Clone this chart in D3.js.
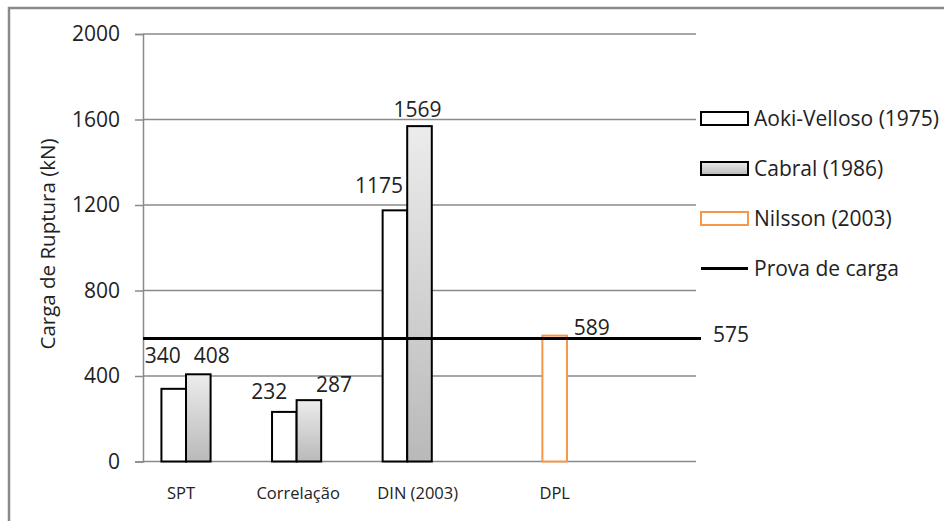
<!DOCTYPE html>
<html>
<head>
<meta charset="utf-8">
<script src="https://cdn.jsdelivr.net/npm/d3@7"></script>
<style>
  html, body { margin: 0; padding: 0; background: #fff; }
  svg { display: block; font-family: "Open Sans", "Noto Sans", sans-serif; }
</style>
</head>
<body>
<svg id="chart" width="944" height="521"></svg>
<script>
// Categories on the x axis
const categories = ["SPT", "Correlação", "DIN (2003)", "DPL"];

// Series (kN); null where a method has no value for that category
const seriesNames = ["Aoki-Velloso (1975)", "Cabral (1986)", "Nilsson (2003)"];
const aokiVelloso = [340, 232, 1175, null];
const cabral      = [408, 287, 1569, null];
const nilsson     = [null, null, null, 589];

// Load test reference value (kN)
const provaDeCargaName = "Prova de carga";
const provaDeCarga = 575;

// Y axis ticks
const yTicks = [0, 400, 800, 1200, 1600, 2000];
const yTitle = "Carga de Ruptura (kN)";

// ---- layout / style (kept apart from the data) ----
const W = 944, H = 521;
const plot = { left: 143, right: 696, top: 34, bottom: 461.5 };
const strokeGrid = "#8a8a8a";
const orange = "#f79646";

// hand-placed value labels: [dx, dy] from the top centre of each bar
const labelNudge = {
  "Aoki-Velloso (1975)": [[-11, -26], [-15, -13], [-16, -17], null],
  "Cabral (1986)":       [[13.5, -11], [25, -8.5], [-2, -9.5], null],
  "Nilsson (2003)":      [null, null, null, [37, -0.5]]
};
// category label offsets from the centre of that category's drawn bars
const catNudge = [-5, 1.5, 10.5, 0];

const svg = d3.select("#chart");

// outer frame
svg.append("path")
  .attr("d", `M9,${H + 5}V8H${W + 5}`)
  .attr("fill", "none")
  .attr("stroke", "#8a8a8a")
  .attr("stroke-width", 2.5);

const defs = svg.append("defs");
const grad = defs.append("linearGradient")
  .attr("id", "cabralFill")
  .attr("x1", 0).attr("y1", 0).attr("x2", 0).attr("y2", 1);
grad.append("stop").attr("offset", "0%").attr("stop-color", "#ececec");
grad.append("stop").attr("offset", "100%").attr("stop-color", "#b9b9b9");

// five slots: the four categories plus one empty slot at the right end
const x = d3.scaleBand()
  .domain([...categories, "__empty__"])
  .range([plot.left, plot.right])
  .paddingInner(0).paddingOuter(0);

const xs = d3.scaleBand()
  .domain(seriesNames)
  .range([0, x.bandwidth()])
  .paddingInner(0).paddingOuter(0.75);

const y = d3.scaleLinear().domain([0, 2000]).range([plot.bottom, plot.top]);

// gridlines
svg.append("g")
  .selectAll("line")
  .data(yTicks)
  .join("line")
  .attr("x1", plot.left).attr("x2", plot.right)
  .attr("y1", d => y(d)).attr("y2", d => y(d))
  .attr("stroke", strokeGrid).attr("stroke-width", 1.5);

// y axis
const yAxis = svg.append("g")
  .attr("transform", `translate(${plot.left},0)`)
  .call(d3.axisLeft(y).tickValues(yTicks).tickSize(8).tickPadding(15).tickFormat(d3.format("d")));
yAxis.select(".domain").attr("stroke", strokeGrid).attr("stroke-width", 1.5);
yAxis.selectAll(".tick line").attr("stroke", strokeGrid).attr("stroke-width", 1.5);
yAxis.selectAll(".tick text")
  .attr("fill", "#222")
  .style("font-size", "21px")
  .style("font-family", "'Open Sans', sans-serif");

// y title
svg.append("text")
  .attr("transform", `translate(55,244) rotate(-90)`)
  .attr("text-anchor", "middle")
  .attr("fill", "#222")
  .style("font-size", "20.5px")
  .text(yTitle);

// bars
const seriesData = [
  { name: seriesNames[0], values: aokiVelloso, fill: "#fff", stroke: "#000" },
  { name: seriesNames[1], values: cabral, fill: "url(#cabralFill)", stroke: "#000" },
  { name: seriesNames[2], values: nilsson, fill: "#fff", stroke: orange }
];

const barsG = svg.append("g");
seriesData.forEach(s => {
  const pts = s.values
    .map((v, i) => ({ v, i, cat: categories[i] }))
    .filter(d => d.v != null);
  barsG.append("g")
    .selectAll("rect")
    .data(pts)
    .join("rect")
    .attr("x", d => x(d.cat) + xs(s.name))
    .attr("width", xs.bandwidth())
    .attr("y", d => y(d.v))
    .attr("height", d => y(0) - y(d.v))
    .attr("fill", s.fill)
    .attr("stroke", s.stroke)
    .attr("stroke-width", 2);
});

// load-test line
const lineEnd = plot.right + 5;
svg.append("line")
  .attr("x1", plot.left).attr("x2", lineEnd)
  .attr("y1", y(provaDeCarga)).attr("y2", y(provaDeCarga))
  .attr("stroke", "#000").attr("stroke-width", 3);
svg.append("text")
  .attr("x", lineEnd + 12)
  .attr("y", y(provaDeCarga) + 3)
  .attr("fill", "#222")
  .style("font-size", "21px")
  .text(provaDeCarga);

// value labels
seriesData.forEach(s => {
  s.values.forEach((v, i) => {
    if (v == null) return;
    const nudge = labelNudge[s.name][i] || [0, -6];
    svg.append("text")
      .attr("x", x(categories[i]) + xs(s.name) + xs.bandwidth() / 2 + nudge[0])
      .attr("y", y(v) + nudge[1])
      .attr("text-anchor", "middle")
      .attr("fill", "#222")
      .style("font-size", "21px")
      .text(v);
  });
});

// category labels, centred under the bars each category actually shows
categories.forEach((c, i) => {
  const present = seriesData.filter(s => s.values[i] != null).map(s => s.name);
  const x0 = d3.min(present, n => xs(n));
  const x1 = d3.max(present, n => xs(n) + xs.bandwidth());
  svg.append("text")
    .attr("x", x(c) + (x0 + x1) / 2 + catNudge[i])
    .attr("y", 499)
    .attr("text-anchor", "middle")
    .attr("fill", "#222")
    .style("font-size", "16.5px")
    .text(c);
});

// legend
const legendItems = [
  { name: seriesNames[0], type: "rect", fill: "#fff", stroke: "#000" },
  { name: seriesNames[1], type: "rect", fill: "url(#cabralFill)", stroke: "#000" },
  { name: seriesNames[2], type: "rect", fill: "#fff", stroke: orange },
  { name: provaDeCargaName, type: "line" }
];
const legend = svg.append("g").attr("transform", "translate(701,118.5)");
legendItems.forEach((it, i) => {
  const g = legend.append("g").attr("transform", `translate(0,${i * 50})`);
  if (it.type === "rect") {
    g.append("rect")
      .attr("x", 0).attr("y", -6.5).attr("width", 47).attr("height", 13)
      .attr("fill", it.fill).attr("stroke", it.stroke).attr("stroke-width", 2);
  } else {
    g.append("line")
      .attr("x1", 0).attr("x2", 47).attr("y1", 0).attr("y2", 0)
      .attr("stroke", "#000").attr("stroke-width", 3);
  }
  g.append("text")
    .attr("x", 53).attr("y", 0)
    .attr("dy", "0.36em")
    .attr("fill", "#222")
    .style("font-size", "21px")
    .text(it.name);
});
</script>
</body>
</html>
